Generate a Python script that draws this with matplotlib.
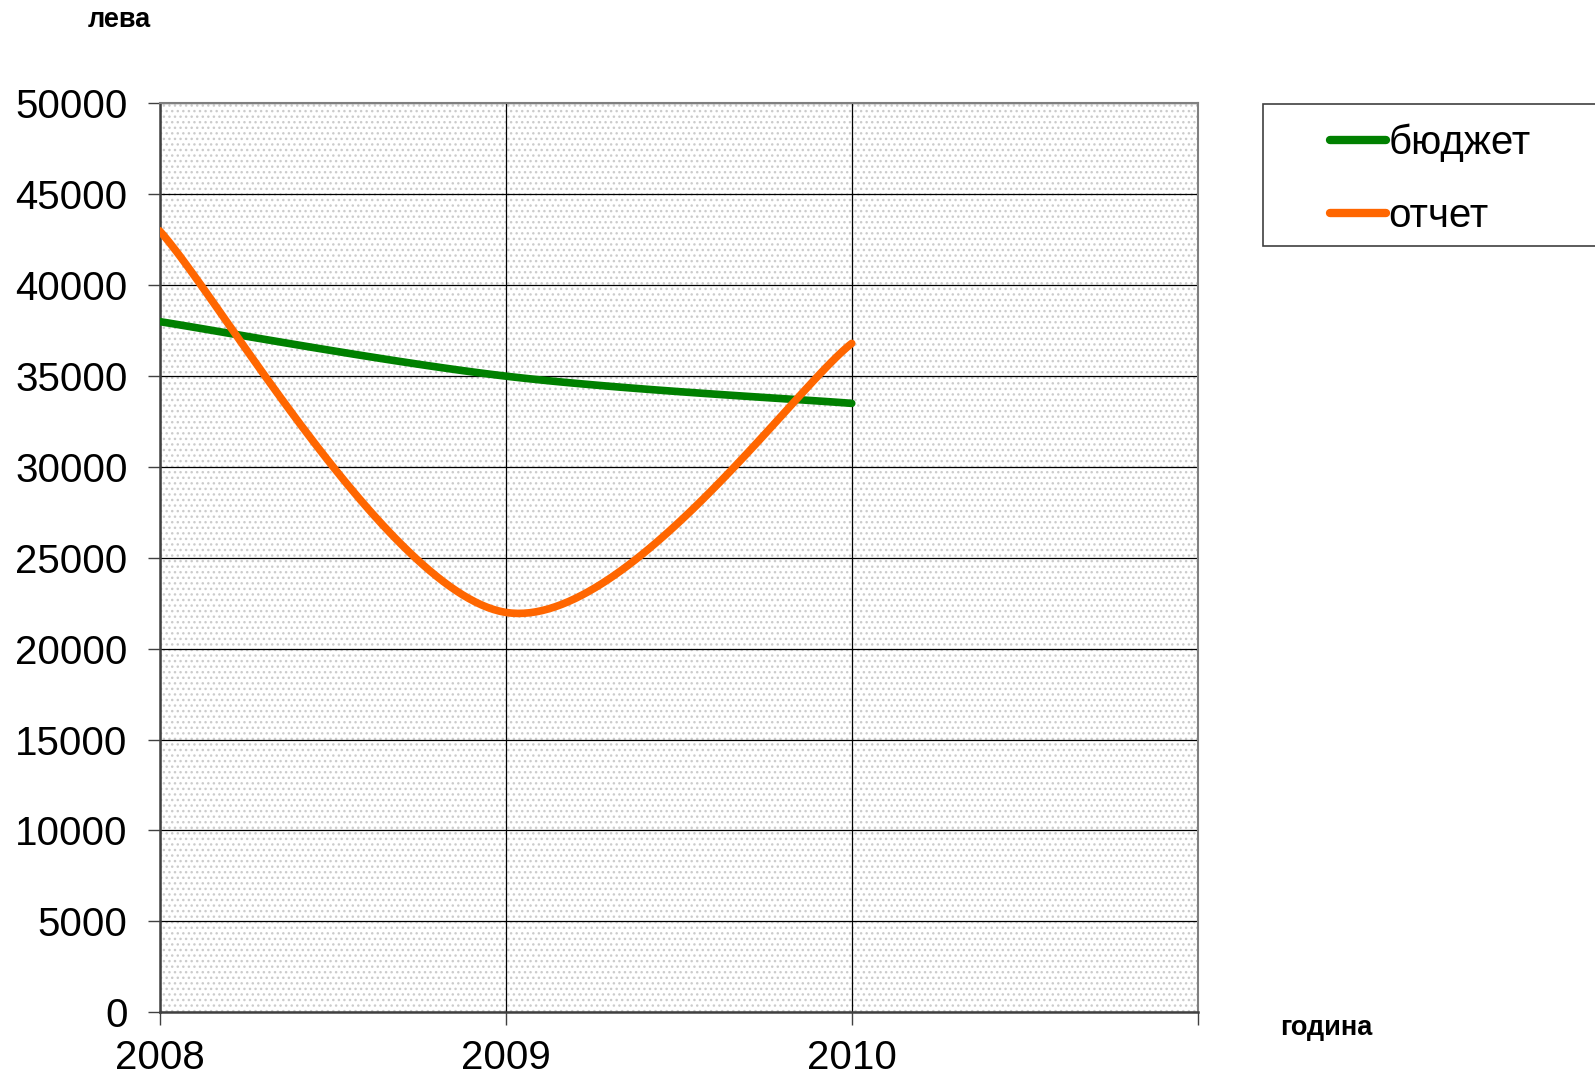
import numpy as np
import matplotlib
matplotlib.use("Agg")
from matplotlib import pyplot as plt
from matplotlib.patches import Rectangle

plt.rcParams['font.family'] = ['Liberation Sans', 'DejaVu Sans']
plt.rcParams['hatch.color'] = '#c8c8c8'
plt.rcParams['hatch.linewidth'] = 1.0

# data
years = [2008, 2009, 2010]
budget = [38000, 35000, 33500]
report = [43000, 22000, 36800]
series_names = ['бюджет', 'отчет']
series_colors = ['#008000', '#ff6600']
yticks = np.arange(0, 50001, 5000)


def smooth(xs, ys, n=60):
    # excel style smoothed line (bezier through the points)
    xs = np.asarray(xs, float)
    ys = np.asarray(ys, float)
    px = np.concatenate([[xs[0]], xs, [xs[-1]]])
    py = np.concatenate([[ys[0]], ys, [ys[-1]]])
    outx, outy = [], []
    t = np.linspace(0, 1, n)
    for i in range(1, len(px) - 2):
        p0 = np.array([px[i], py[i]])
        p3 = np.array([px[i + 1], py[i + 1]])
        c1 = p0 + (p3 - np.array([px[i - 1], py[i - 1]])) / 6
        c2 = p3 - (np.array([px[i + 2], py[i + 2]]) - p0) / 6
        b = ((1 - t) ** 3)[:, None] * p0 + (3 * (1 - t) ** 2 * t)[:, None] * c1 \
            + (3 * (1 - t) * t ** 2)[:, None] * c2 + (t ** 3)[:, None] * p3
        outx += list(b[:, 0])
        outy += list(b[:, 1])
    return outx, outy


fig = plt.figure(figsize=(15.95, 10.78), dpi=100)
ax = fig.add_axes([0.1, 0.061, 0.651, 0.843])

ax.add_patch(Rectangle((0, 0), 1, 1, transform=ax.transAxes, facecolor='white',
                       hatch='...', edgecolor='#cccccc', linewidth=0, zorder=0))

for vals, name, col in zip([budget, report], series_names, series_colors):
    sx, sy = smooth(years, vals)
    ax.plot(sx, sy, color=col, linewidth=5.5, solid_capstyle='round', label=name, zorder=3)

ax.set_xlim(2008, 2011)
ax.set_ylim(0, 50000)
ax.set_xticks([2008, 2009, 2010, 2011])
ax.set_xticklabels(['2008', '2009', '2010', ''])
ax.set_yticks(yticks)
ax.set_yticklabels([str(v) for v in yticks])
ax.grid(True, color='black', linewidth=0.9, zorder=1)
ax.set_axisbelow(True)
ax.tick_params(axis='both', labelsize=29, length=9, width=1, color='#404040', direction='out')
ax.tick_params(axis='y', pad=14)
ax.tick_params(axis='x', pad=10)
for s in ['left', 'bottom']:
    ax.spines[s].set_color('#404040')
    ax.spines[s].set_linewidth(1.8)
for s in ['top', 'right']:
    ax.spines[s].set_color('#808080')
    ax.spines[s].set_linewidth(1.5)

fig.text(119 / 1595, 1 - 20 / 1078, 'лева', fontsize=19.5, fontweight='bold', ha='center', va='center')
fig.text(1326 / 1595, 1 - 1028 / 1078, 'година', fontsize=19.5, fontweight='bold', ha='center', va='center')

# legend frame runs past the right edge
fig.patches.append(Rectangle((1263 / 1595, 1 - 246 / 1078), 0.3, 142 / 1078, transform=fig.transFigure,
                             facecolor='white', edgecolor='#404040', linewidth=1.2, zorder=0))
leg = fig.legend(loc='upper left', bbox_to_anchor=(1330 / 1595, 1 - 124 / 1078), frameon=False,
                 fontsize=29, handlelength=1.4, handletextpad=0.05, labelspacing=0.85,
                 borderpad=0, borderaxespad=0)
for h in leg.legend_handles:
    h.set_linewidth(6)

fig.savefig('out.png', dpi=100)
